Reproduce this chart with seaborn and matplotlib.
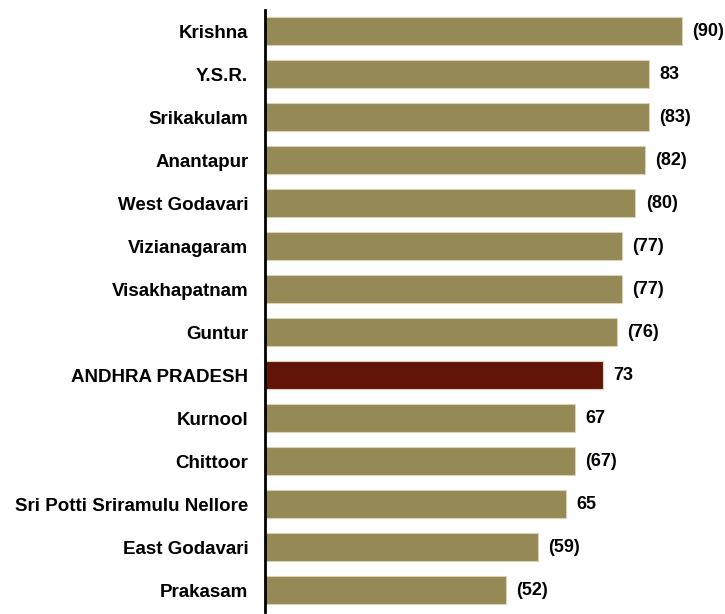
import matplotlib
matplotlib.use("Agg")
import matplotlib.pyplot as plt
import seaborn as sns
import pandas as pd

# District scores, top to bottom as in the chart
districts = ["Krishna", "Y.S.R.", "Srikakulam", "Anantapur", "West Godavari",
             "Vizianagaram", "Visakhapatnam", "Guntur", "ANDHRA PRADESH",
             "Kurnool", "Chittoor", "Sri Potti Sriramulu Nellore",
             "East Godavari", "Prakasam"]
scores = [90, 83, 83, 82, 80, 77, 77, 76, 73, 67, 67, 65, 59, 52]
value_labels = ["(90)", "83", "(83)", "(82)", "(80)", "(77)", "(77)", "(76)",
                "73", "67", "(67)", "65", "(59)", "(52)"]
kind = ["state" if d == "ANDHRA PRADESH" else "district" for d in districts]

df = pd.DataFrame({"district": districts, "score": scores, "kind": kind})

sns.set_style("white")
plt.rcParams["font.family"] = ["Liberation Sans", "DejaVu Sans"]
plt.rcParams["font.weight"] = "bold"

fig = plt.figure(figsize=(7.25, 6.14), dpi=100)
ax = fig.add_axes([265 / 725, 1 - 612 / 614, (723 - 265) / 725, (612 - 9.5) / 614])

palette = {"district": "#958a55", "state": "#621409"}
sns.barplot(data=df, x="score", y="district", hue="kind", palette=palette,
            orient="h", width=0.65, edgecolor="#d9d2b4", linewidth=0.8,
            saturation=1, dodge=False, legend=False, ax=ax)

for i, (v, lab) in enumerate(zip(scores, value_labels)):
    ax.text(v + 2.2, i, lab, va="center", ha="left", fontsize=13,
            fontweight="bold", color="black")

ax.set_xlim(0, 98.9)
ax.set_ylim(13.5, -0.5)
ax.set_xlabel("")
ax.set_ylabel("")
ax.set_xticks([])
ax.tick_params(axis="y", length=0, pad=12, labelsize=13.5, labelcolor="black")
for t in ax.get_yticklabels():
    t.set_fontweight("bold")
for s in ["top", "right", "bottom"]:
    ax.spines[s].set_visible(False)
ax.spines["left"].set_color("black")
ax.spines["left"].set_linewidth(2)

fig.savefig("out.png", dpi=100)
